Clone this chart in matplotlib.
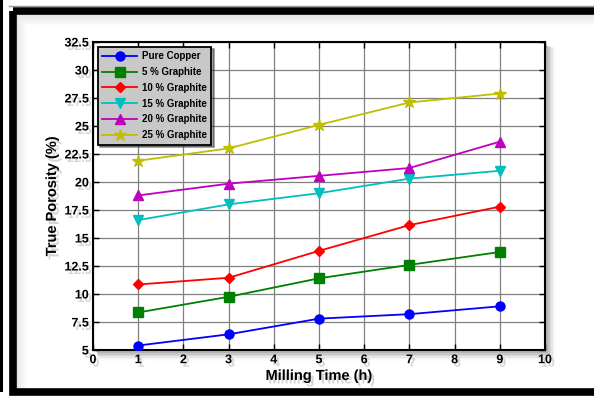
import matplotlib
matplotlib.use("Agg")
import matplotlib.pyplot as plt
import matplotlib.patheffects as pe
from matplotlib.patches import Rectangle

milling_time = [1, 3, 5, 7, 9]
pure_copper = [5.4, 6.4, 7.8, 8.2, 8.9]
graphite_5 = [8.35, 9.75, 11.4, 12.6, 13.75]
graphite_10 = [10.85, 11.45, 13.85, 16.15, 17.8]
graphite_15 = [16.6, 18.0, 19.0, 20.3, 21.0]
graphite_20 = [18.8, 19.85, 20.55, 21.25, 23.6]
graphite_25 = [21.9, 23.0, 25.1, 27.1, 27.9]

labels = ["Pure Copper", "5 % Graphite", "10 % Graphite", "15 % Graphite",
          "20 % Graphite", "25 % Graphite"]
series = [pure_copper, graphite_5, graphite_10, graphite_15, graphite_20, graphite_25]
colors = ["#0000ff", "#008000", "#ff0000", "#00bfbf", "#bf00bf", "#bfbf00"]
markers = ["o", "s", "D", "v", "^", "*"]
msizes = [6.5, 6.5, 5.5, 7.5, 7.5, 9]

xticks = [0, 1, 2, 3, 4, 5, 6, 7, 8, 9, 10]
yticks = [5, 7.5, 10, 12.5, 15, 17.5, 20, 22.5, 25, 27.5, 30, 32.5]
ytick_labels = ["5", "7.5", "10", "12.5", "15", "17.5", "20", "22.5", "25", "27.5", "30", "32.5"]

plt.rcParams['font.family'] = ['Liberation Sans', 'DejaVu Sans']
plt.rcParams['font.weight'] = 'bold'

W, H = 594, 396
fig = plt.figure(figsize=(W / 100, H / 100), dpi=100)
fig.patch.set_facecolor('white')

# background / frame axes in pixel coords
bg = fig.add_axes([0, 0, 1, 1], zorder=0)
bg.set_xlim(0, W)
bg.set_ylim(H, 0)
bg.axis('off')

# inner blurred shadow of the frame
for i in range(10):
    a = 0.10 * (1 - i / 10)
    bg.add_patch(Rectangle((16 + i, 15 + i), W, H, facecolor='none',
                           edgecolor=(0.3, 0.3, 0.3, a), linewidth=1.0))
# thick black frame
bg.add_patch(Rectangle((12.5, 11), W, 381, facecolor='none',
                       edgecolor='black', linewidth=5.5))
bg.plot([9, W], [6, 6], color='#999999', lw=1)
# thin black bar at far left (neighbouring frame)
bg.add_patch(Rectangle((0, 0), 2.5, 392, facecolor='black', edgecolor='none'))

# axes position
L, R, T, B = 93, 545, 42, 350
# blurred axes shadow
for i in range(6):
    a = 0.12 * (1 - i / 6)
    bg.add_patch(Rectangle((L + 3 + i * 0.6, T + 3 + i * 0.6), R - L + i, B - T + i,
                           facecolor=(0.2, 0.2, 0.2, a), edgecolor='none'))

ax = fig.add_axes([L / W, 1 - B / H, (R - L) / W, (B - T) / H], zorder=2)
ax.set_facecolor('white')

for s, lab, c, m, ms in zip(series, labels, colors, markers, msizes):
    ax.plot(milling_time, s, color=c, marker=m, markersize=ms, linewidth=1.3,
            markerfacecolor=c, markeredgecolor=c, label=lab, zorder=3)

ax.set_xlim(0, 10)
ax.set_ylim(5, 32.5)
ax.set_xticks(xticks)
ax.set_yticks(yticks)
ax.set_yticklabels(ytick_labels)
ax.grid(True, color='#808080', linewidth=0.9, linestyle='-')
ax.set_axisbelow(True)
ax.tick_params(direction='in', top=True, right=True, length=4, width=1,
               labelsize=9, pad=3)
for sp in ax.spines.values():
    sp.set_linewidth(1.5)

shadow = [pe.SimplePatchShadow(offset=(2, -2.5), shadow_rgbFace='#888888', alpha=0.35), pe.Normal()]
for lbl in ax.get_xticklabels() + ax.get_yticklabels():
    lbl.set_fontweight('bold')
    lbl.set_path_effects(shadow)

ax.set_xlabel("Milling Time (h)", fontsize=10.5, fontweight='bold', labelpad=2,
              path_effects=shadow)
ax.set_ylabel("True Porosity (%)", fontsize=10.5, fontweight='bold', labelpad=4,
              path_effects=shadow)

leg = ax.legend(loc='upper left', bbox_to_anchor=(4.7 / (R - L), 1 - 4.7 / (B - T)),
                borderaxespad=0, handlelength=3.6, labelspacing=0.6,
                frameon=True, fancybox=False, shadow=True, borderpad=0.45,
                handletextpad=0.5, prop={'weight': 'bold', 'size': 7})
frame = leg.get_frame()
frame.set_facecolor('#c8c8c8')
frame.set_edgecolor('black')
frame.set_linewidth(1.3)
frame.set_alpha(1)

fig.savefig("out.png", dpi=100)
